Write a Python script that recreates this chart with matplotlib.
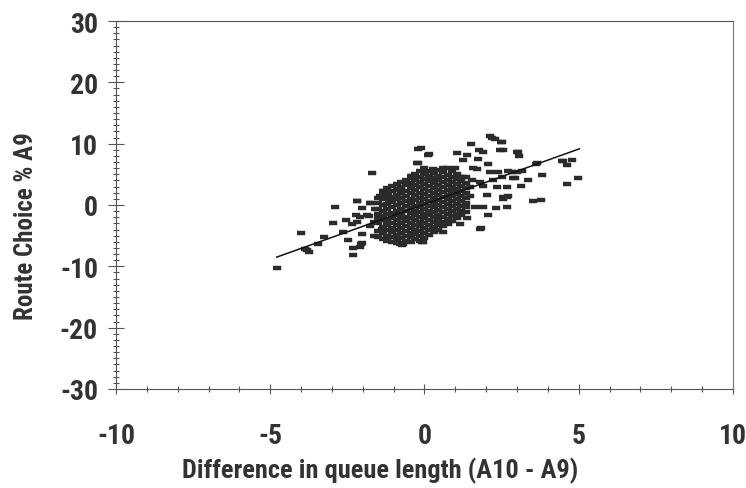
import matplotlib
matplotlib.use("Agg")
import matplotlib.pyplot as plt
from matplotlib.ticker import MultipleLocator

# route choice vs. queue-length difference, one mark per observation
outer_pts = [
    (-4.79, -10.3), (-4.0, -4.5), (-3.87, -7.2), (-3.73, -7.6), (-3.82, -7.3),
    (-3.46, -6.4), (-3.25, -5.2), (-2.98, -3.0), (-2.9, -0.4), (-2.63, -4.4),
    (-2.54, -2.4), (-2.47, -5.7), (-2.34, -3.1), (-2.33, -7.0), (-2.33, -8.2),
    (-2.23, -1.7), (-2.2, 0.65), (-2.2, 0.7), (-2.2, -2.8), (-2.09, -2.0),
    (-2.09, -6.9), (-2.06, -6.4), (-2.04, -0.5), (-2.04, -6.2), (-2.03, -4.7),
    (-1.87, -1.7), (-1.81, -1.8), (-1.78, 0.4), (-1.77, 0.3), (-1.77, -3.5),
    (-1.69, 5.2), (-1.63, -2.7), (-1.63, -5.0), (-1.6, -0.65), (-1.5, -5.0),
    (-1.44, 1.5), (-1.39, -3.9), (-1.34, 2.2), (-1.32, 2.3), (-1.23, -5.5),
    (-1.23, -2.8), (-1.17, 1.8), (-1.14, 0.8), (-0.96, -5.3), (-0.9, -6.2),
    (-0.85, 2.6), (-0.82, 2.5), (-0.79, -6.4), (-0.74, -6.5), (-0.69, -6.4),
    (-0.53, 3.6), (-0.44, 4.8), (-0.41, 4.8), (-0.23, 6.9), (-0.2, 6.85),
    (-0.2, 9.2), (-0.12, 9.25), (-0.09, -6.1), (-0.04, -6.1), (0.02, 5.3),
    (0.14, 8.3), (0.12, 8.2), (0.23, 4.2), (0.29, 5.9), (0.29, -3.9),
    (0.4, -2.0), (0.45, 4.8), (0.5, -3.1), (0.61, -4.45), (0.61, 6.1),
    (0.72, 6.1), (0.83, -2.55), (0.93, 2.3), (0.99, 6.1), (1.04, 8.4),
    (1.1, -1.5), (1.15, -3.1), (1.15, 4.5), (1.26, 7.4), (1.26, 4.5),
    (1.37, 8.2), (1.37, -2.2), (1.47, 2.9), (1.47, 1.5), (1.51, 9.9),
    (1.53, 4.0), (1.58, 6.1), (1.64, -0.4), (1.69, 5.9), (1.74, 7.5),
    (1.77, 9.0), (1.8, 3.7), (1.8, -3.9), (1.83, -3.75), (1.91, 8.6),
    (1.91, 3.15), (1.91, -0.4), (2.02, 1.6), (2.05, -1.6), (2.07, 6.7),
    (2.12, 11.2), (2.12, 5.3), (2.18, 11.0), (2.23, 4.0), (2.29, 10.8),
    (2.31, -0.5), (2.34, 2.9), (2.39, 5.3), (2.45, 9.0), (2.47, 10.2),
    (2.5, 10.3), (2.5, 4.5), (2.53, 1.0), (2.56, 8.9), (2.56, 1.25),
    (2.66, 2.9), (2.66, 1.35), (2.68, -0.4), (2.72, 5.6), (2.72, 1.5),
    (2.83, 5.3), (2.88, 4.4), (2.93, 4.35), (2.99, 5.3), (3.01, 8.6),
    (3.04, 8.7), (3.07, 8.0), (3.12, 3.1), (3.15, 5.6), (3.37, 4.0),
    (3.51, 0.6), (3.61, 6.7), (3.64, 6.8), (3.78, 0.8), (3.8, 4.9),
    (4.45, 7.1), (4.48, 7.1), (4.61, 6.6), (4.61, 3.4), (4.77, 7.4),
    (4.99, 4.35),
]

# dense middle of the cloud, grouped by queue-length difference
core_columns = {
    -1.5: [-5.2, -4.3, -3.0, -2.2, -1.4, -0.6, 0.3, 1.1],
    -1.35: [-5.6, -4.6, -3.6, -2.5, -1.8, -1.0, 0.0, 0.9, 1.9],
    -1.2: [-5.9, -5.0, -4.1, -3.3, -2.4, -1.5, -0.7, 0.2, 1.2, 2.0, 2.8],
    -1.05: [-6.0, -5.2, -4.4, -3.7, -2.9, -2.1, -1.3, -0.4, 0.5, 1.3, 2.3, 3.1],
    -0.9: [-5.7, -4.9, -4.0, -3.2, -2.5, -1.6, -0.9, 0.0, 0.9, 1.7, 2.6, 3.4],
    -0.75: [-6.2, -5.4, -4.6, -3.8, -3.0, -2.2, -1.4, -0.6, 0.3, 1.1, 2.0, 2.9, 3.8],
    -0.6: [-5.8, -5.0, -4.2, -3.5, -2.6, -1.9, -1.0, -0.2, 0.6, 1.5, 2.3, 3.2, 4.1],
    -0.45: [-6.0, -5.3, -4.5, -3.7, -2.9, -2.1, -1.3, -0.5, 0.3, 1.0, 1.9, 2.7, 3.5, 4.4],
    -0.3: [-5.6, -4.8, -4.1, -3.3, -2.5, -1.7, -0.9, -0.1, 0.8, 1.6, 2.4, 3.3, 4.1, 5.0],
    -0.15: [-5.9, -5.1, -4.3, -3.5, -2.7, -1.9, -1.1, -0.3, 0.4, 1.2, 2.0, 2.9, 3.7, 4.6, 5.5],
    0.0: [-5.4, -4.6, -3.8, -3.0, -2.2, -1.4, -0.6, 0.2, 1.0, 1.8, 2.6, 3.4, 4.3, 5.1, 6.0],
    0.15: [-4.9, -4.1, -3.3, -2.5, -1.7, -0.9, -0.1, 0.7, 1.5, 2.3, 3.1, 3.9, 4.7, 5.6],
    0.3: [-4.4, -3.6, -2.8, -2.0, -1.2, -0.4, 0.4, 1.2, 2.0, 2.8, 3.6, 4.4, 5.2],
    0.45: [-4.0, -3.2, -2.4, -1.6, -0.8, 0.0, 0.8, 1.6, 2.4, 3.2, 4.0, 4.8, 5.7],
    0.6: [-3.5, -2.7, -1.9, -1.1, -0.3, 0.5, 1.3, 2.1, 2.9, 3.7, 4.5, 5.3],
    0.75: [-3.1, -2.3, -1.5, -0.7, 0.1, 0.9, 1.7, 2.5, 3.3, 4.1, 4.9],
    0.9: [-2.6, -1.8, -1.0, -0.2, 0.6, 1.4, 2.2, 3.0, 3.8, 4.6, 5.5],
    1.05: [-2.2, -1.4, -0.6, 0.2, 1.0, 1.8, 2.6, 3.4, 4.2, 5.0],
    1.2: [-1.7, -0.9, -0.1, 0.7, 1.5, 2.3, 3.1, 3.9],
    1.35: [-1.2, -0.4, 0.4, 1.2, 2.0, 2.8, 3.6, 4.6],
}

# fitted trend line
fit_intercept = 0.12
fit_slope = 1.80
fit_x_range = [-4.79, 5.02]

x_ticks = [-10, -5, 0, 5, 10]
y_ticks = [-30, -20, -10, 0, 10, 20, 30]

xs = [p[0] for p in outer_pts]
ys = [p[1] for p in outer_pts]
for cx, col in core_columns.items():
    xs += [cx] * len(col)
    ys += col

plt.rcParams["font.family"] = ["Roboto Condensed", "DejaVu Sans"]
plt.rcParams["font.weight"] = "bold"
plt.rcParams["axes.unicode_minus"] = False
text_col = "#333333"

fig = plt.figure(figsize=(7.46, 4.89), dpi=100)
ax = fig.add_axes([0.1555, 0.2025, 0.827, 0.7525])

box = [(-1, -0.66), (1, -0.66), (1, 0.66), (-1, 0.66)]
ax.plot(xs, ys, linestyle="none", marker=box, ms=5.2, color="#2b2b2b", mec="#2b2b2b", mew=0.3)

fx = fit_x_range
fy = [fit_intercept + fit_slope * v for v in fx]
ax.plot(fx, fy, color="#111111", lw=1.1)

ax.set_xlim(-10, 10)
ax.set_ylim(-30, 30)
ax.set_xticks(x_ticks)
ax.set_yticks(y_ticks)
ax.xaxis.set_minor_locator(MultipleLocator(1))
ax.yaxis.set_minor_locator(MultipleLocator(1))

for side in ["left", "bottom", "top"]:
    ax.spines[side].set_linestyle((0, (1, 1)))
    ax.spines[side].set_color("#555555")
    ax.spines[side].set_linewidth(0.8)
ax.spines["right"].set_color("#777777")
ax.spines["right"].set_linewidth(0.8)

ax.tick_params(axis="both", which="both", direction="inout", colors="#555555", width=0.8)
ax.tick_params(axis="x", which="major", length=7, pad=20, labelsize=20, labelcolor=text_col)
ax.tick_params(axis="y", which="major", length=12, pad=7, labelsize=20, labelcolor=text_col)
ax.tick_params(axis="both", which="minor", length=5)

ax.set_xlabel("Difference in queue length (A10 - A9)", fontsize=19, fontweight="bold", color=text_col)
ax.set_ylabel("Route Choice % A9", fontsize=18, fontweight="bold", color=text_col)
ax.xaxis.set_label_coords(0.428, -0.183)
ax.yaxis.set_label_coords(-0.126, 0.446)

fig.savefig("out.png", dpi=100)
